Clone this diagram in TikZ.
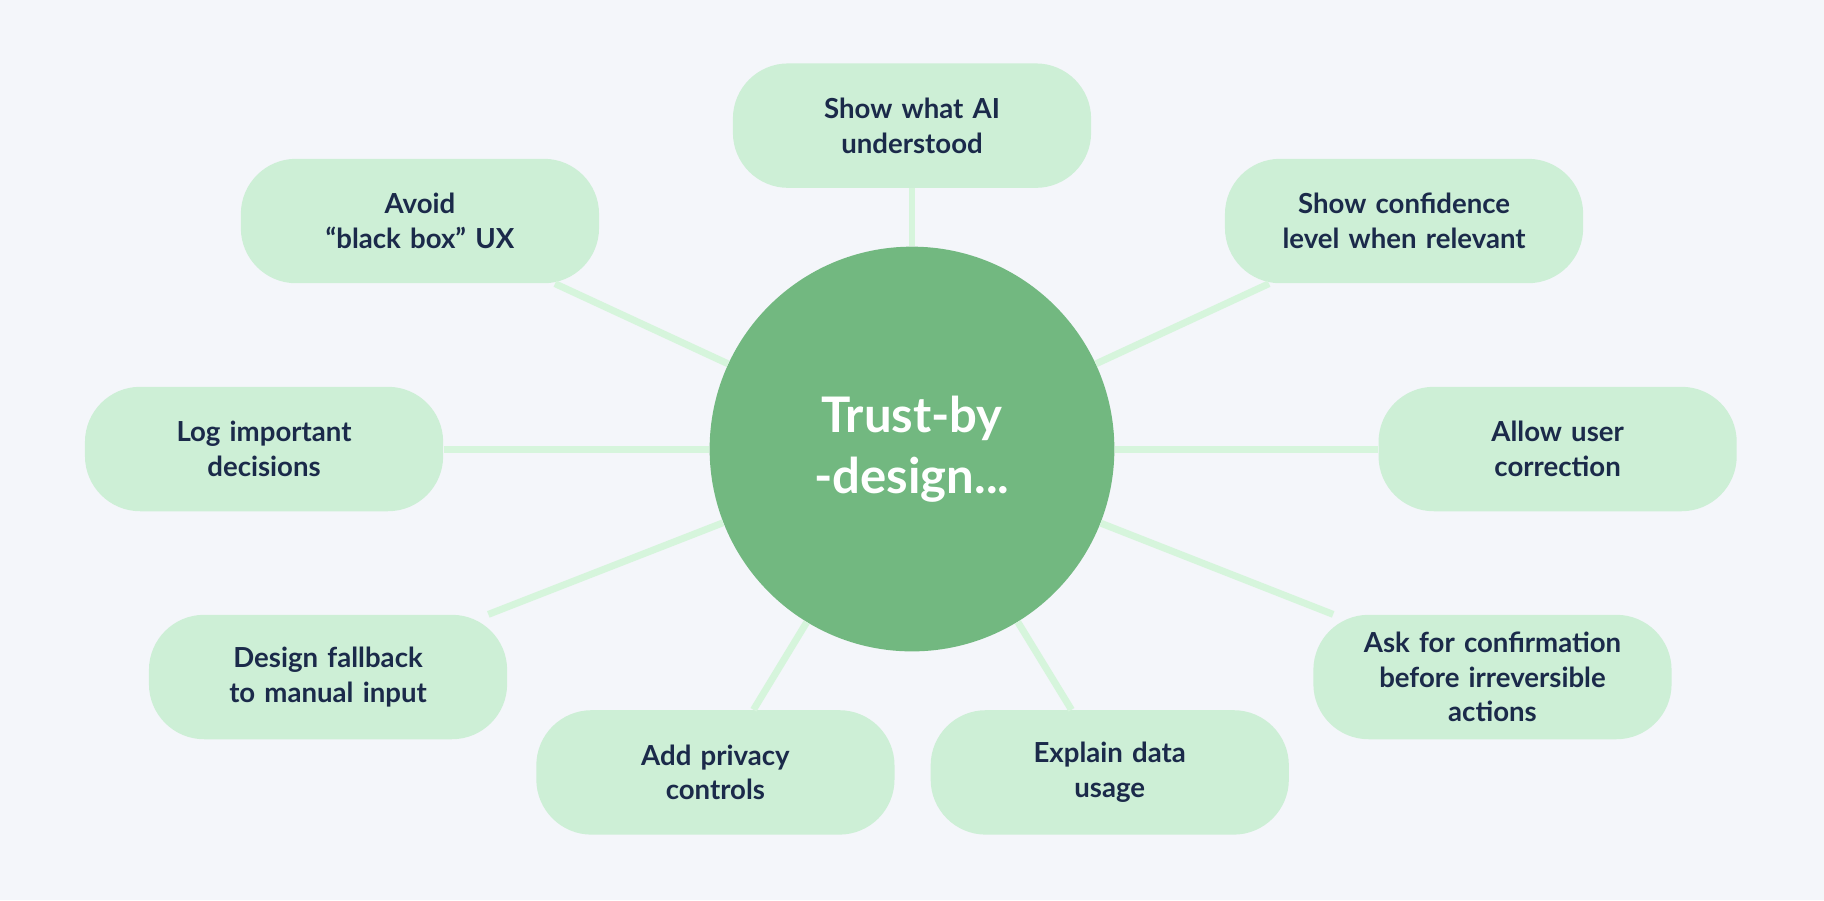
\documentclass[tikz,border=0pt]{standalone}
\usepackage{fontspec}
\setmainfont{Lato}
\definecolor{pagebg}{HTML}{F4F6FA}
\definecolor{boxfill}{HTML}{CDEFD6}
\definecolor{hubfill}{HTML}{72B880}
\definecolor{linkcol}{HTML}{D6F5DC}
\definecolor{textcol}{HTML}{1B2A4A}
\tikzset{
  tip/.style={fill=boxfill, rounded corners=0.95cm, minimum width=6.16cm, minimum height=2.14cm,
    text width=5.4cm, align=center, text=textcol, font=\fontsize{13.5}{17}\selectfont\bfseries},
  hub/.style={circle, fill=hubfill, minimum size=6.96cm, text=white, align=center,
    font=\fontsize{24}{30}\selectfont\bfseries},
  link/.style={linkcol, line width=3.4pt}
}
\begin{document}
\begin{tikzpicture}[x=0.02cm,y=-0.02cm]
\fill[pagebg] (0,0) rectangle (1568,774);
\useasboundingbox (0,0) rectangle (1568,774);
\node[hub] (c) at (784,386) {Trust-by\\-design...};
\node[tip] (t) at (784,108) {Show what AI\\understood};
\node[tip] (tl) at (361,190) {Avoid\\“black box” UX};
\node[tip] (tr) at (1207,190) {Show confidence\\level when relevant};
\node[tip] (l) at (227,386) {Log important\\decisions};
\node[tip] (r) at (1339,386) {Allow user\\correction};
\node[tip] (bl) at (282,582) {Design fallback\\to manual input};
\node[tip] (br) at (1283,582) {Ask for confirmation\\before irreversible\\actions};
\node[tip] (b1) at (615,664) {Add privacy\\controls};
\node[tip] (b2) at (954,664) {Explain data\\usage};
\foreach \n in {t,tl,tr,l,r,bl,br,b1,b2}
  \draw[link] (c) -- (\n);
\end{tikzpicture}
\end{document}
